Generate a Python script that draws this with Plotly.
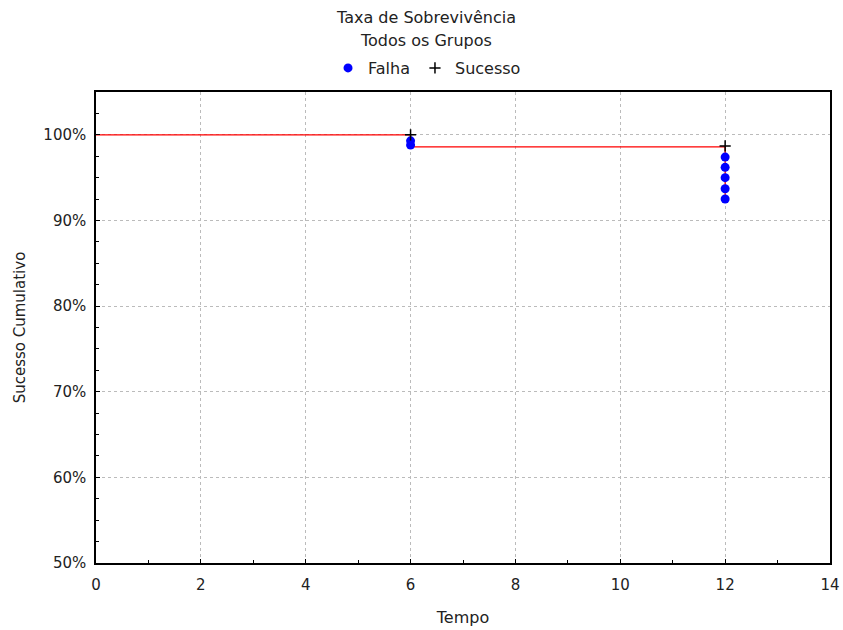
import plotly.graph_objects as go

# Data
step_x = [0, 6, 6, 12, 12]
step_y = [100, 100, 98.6, 98.6, 92.5]
falha_x = [6, 6, 12, 12, 12, 12, 12]
falha_y = [99.3, 98.8, 97.4, 96.2, 95.0, 93.7, 92.5]
sucesso_x = [6, 12]
sucesso_y = [100, 98.7]
y_ticks = [50, 60, 70, 80, 90, 100]
y_labels = ["50%", "60%", "70%", "80%", "90%", "100%"]
title_lines = ["Taxa de Sobrevivência", "Todos os Grupos"]

fig = go.Figure()
fig.add_trace(go.Scatter(x=step_x, y=step_y, mode="lines",
                         line=dict(color="#ff0000", width=1.3), showlegend=False, hoverinfo="skip"))
fig.add_trace(go.Scatter(x=falha_x, y=falha_y, mode="markers", name="Falha",
                         marker=dict(color="#0000ff", size=9, symbol="circle")))
fig.add_trace(go.Scatter(x=sucesso_x, y=sucesso_y, mode="markers", name="Sucesso",
                         marker=dict(color="black", size=8, symbol="cross-thin",
                                     line=dict(color="black", width=1.5))))

font = "DejaVu Sans, Verdana, sans-serif"
for i, t in enumerate(title_lines):
    fig.add_annotation(text=t, xref="paper", yref="paper", x=0.4496, y=1, xanchor="center",
                       yanchor="middle", yshift=(92 - 17) - 23 * i, showarrow=False,
                       font=dict(size=16, color="#222", family=font))

fig.update_layout(
    width=843, height=630,
    paper_bgcolor="white", plot_bgcolor="white",
    margin=dict(l=96, r=13, t=92, b=67),
    font=dict(family=font, size=15, color="#222"),
    legend=dict(orientation="h", x=0.451, xanchor="center", y=1.051, yanchor="middle",
                font=dict(size=16), itemwidth=30, tracegroupgap=0),
    xaxis=dict(range=[0, 14], tickvals=list(range(0, 15, 2)), showgrid=True, automargin=False,
               gridcolor="#bbbbbb", griddash="dot", gridwidth=1,
               showline=True, linecolor="black", linewidth=1.5, mirror=True,
               ticks="inside", ticklen=4, tickcolor="black", ticklabelstandoff=7,
               tickfont=dict(size=15),
               minor=dict(dtick=1, ticks="inside", ticklen=3, tickcolor="black", showgrid=False),
               zeroline=False, title=dict(text="Tempo", font=dict(size=16), standoff=19)),
    yaxis=dict(range=[50, 105], tickvals=y_ticks, ticktext=y_labels, showgrid=True, automargin=False,
               gridcolor="#bbbbbb", griddash="dot", gridwidth=1,
               showline=True, linecolor="black", linewidth=1.5, mirror=True,
               ticks="inside", ticklen=4, tickcolor="black", ticklabelstandoff=5,
               tickfont=dict(size=15),
               minor=dict(dtick=2.5, ticks="inside", ticklen=3, tickcolor="black", showgrid=False),
               zeroline=False, title=dict(text="Sucesso Cumulativo", font=dict(size=15), standoff=14)),
)
fig.write_html("out.html")
